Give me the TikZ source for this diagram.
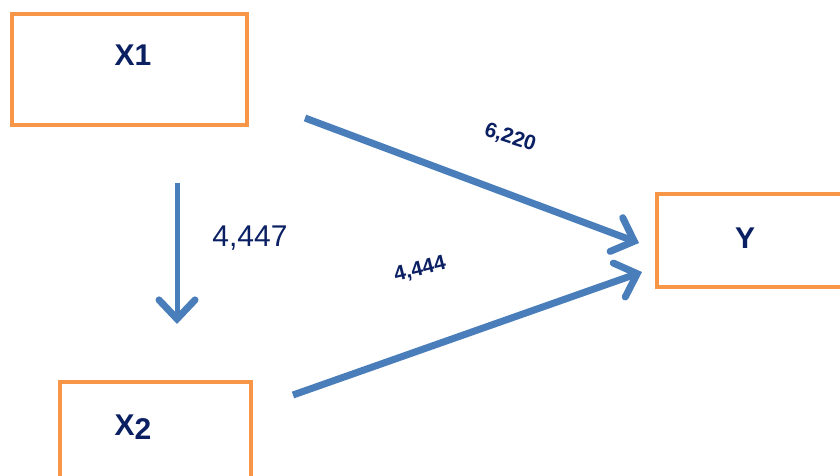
\documentclass[tikz,border=0pt]{standalone}
\usepackage{fontspec}
\setmainfont{Liberation Sans}
\usetikzlibrary{arrows.meta}
\definecolor{boxor}{HTML}{F79646}
\definecolor{arrblue}{HTML}{4A7EBB}
\definecolor{navy}{HTML}{0B2062}
\begin{document}
\begin{tikzpicture}[x=1pt,y=-1pt,
  box/.style={draw=boxor,line width=4pt,fill=white},
  conn/.style={draw=arrblue,line width=7pt,-{Straight Barb[length=19pt,width=36pt,line cap=round,line width=7pt]}},
  lbl/.style={text=navy,inner sep=0pt},
  ttl/.style={text=navy,font=\fontsize{30}{30}\selectfont\bfseries,inner sep=0pt}]
\useasboundingbox (0,0) rectangle (840,475);
\draw[box] (12,14) rectangle (247,125);
\draw[box] (60,382) rectangle (251,490);
\draw[box] (657,194) rectangle (850,287);
\node[ttl] (x1) at (133,55) {X1};
\node[ttl] (x2) at (133,427) {X\raisebox{-4pt}{2}};
\node[ttl] (y) at (745,238) {Y};
\coordinate (a1s) at (177,183);
\coordinate (a1e) at (177,324);
\coordinate (a2s) at (305,118);
\coordinate (a2e) at (639,243);
\coordinate (a3s) at (293,395);
\coordinate (a3e) at (642,272);
\draw[conn,line width=5pt] (a1s) -- (a1e);
\draw[conn] (a2s) -- (a2e);
\draw[conn] (a3s) -- (a3e);
\node[lbl,font=\fontsize{30}{30}\selectfont] (l1) at (250,238) {4,447};
\node[lbl,font=\fontsize{21}{21}\selectfont\bfseries,rotate=-18] (l2) at (510,138) {6,220};
\node[lbl,font=\fontsize{21}{21}\selectfont\bfseries,rotate=14] (l3) at (420,270) {4,444};
\end{tikzpicture}
\end{document}
